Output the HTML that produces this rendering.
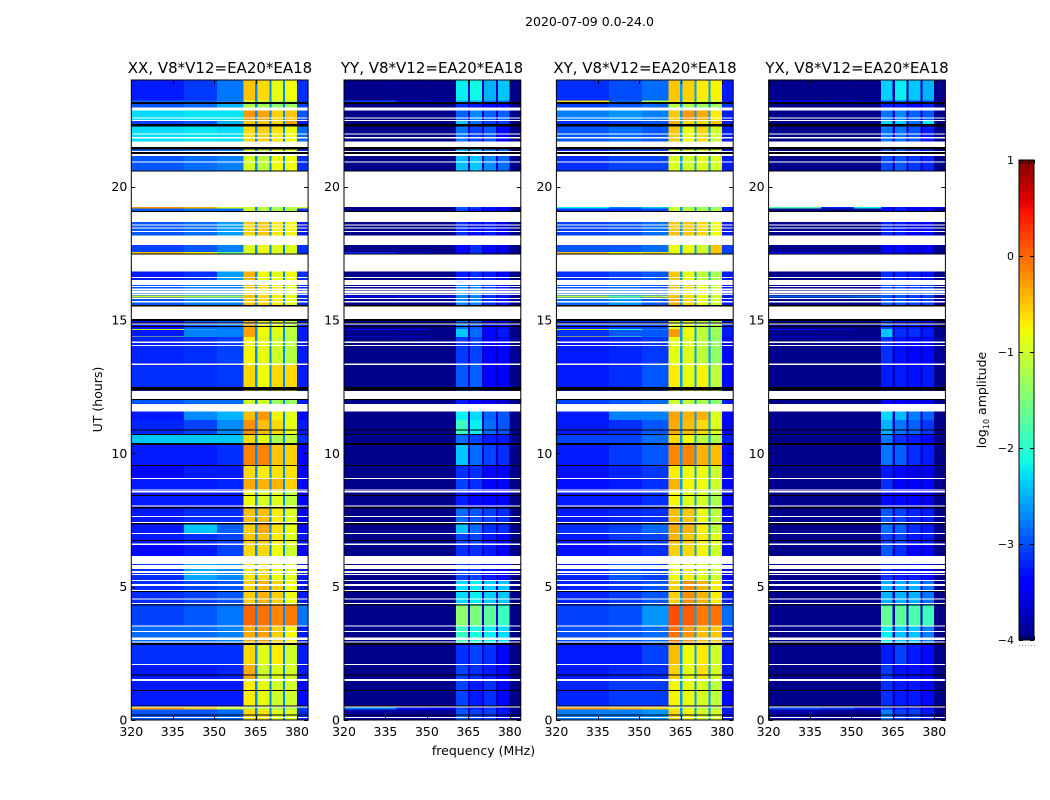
<!DOCTYPE html>
<html lang="en">
<head>
<meta charset="utf-8">
<title>2020-07-09 0.0-24.0</title>
<style>
html,body{margin:0;padding:0;background:#fff;}
#chart{display:block;}
text{font-family:"DejaVu Sans","Liberation Sans",sans-serif;fill:#000;}
</style>
</head>
<body>
<svg id="chart" xmlns="http://www.w3.org/2000/svg" width="1050" height="800" viewBox="0 0 1050 800">
  <rect x="0" y="0" width="1050" height="800" fill="#fff"/>
  <text x="589.5" y="26" font-size="12.5" text-anchor="middle">2020-07-09 0.0-24.0</text>
  <text x="220" y="73" font-size="15" text-anchor="middle">XX, V8*V12=EA20*EA18</text>
  <text x="432" y="73" font-size="15" text-anchor="middle">YY, V8*V12=EA20*EA18</text>
  <text x="645" y="73" font-size="15" text-anchor="middle">XY, V8*V12=EA20*EA18</text>
  <text x="857" y="73" font-size="15" text-anchor="middle">YX, V8*V12=EA20*EA18</text>
  <g id="panels"></g>
  <text x="0" y="0" font-size="12.5" text-anchor="middle" transform="translate(102,399.5) rotate(-90)">UT (hours)</text>
  <text x="483.5" y="755" font-size="12.5" text-anchor="middle">frequency (MHz)</text>
  <g id="colorbar"></g>
  <text x="0" y="0" font-size="12.5" text-anchor="middle" transform="translate(986,400) rotate(-90)">log<tspan font-size="8" dy="3">10</tspan><tspan dy="-3"> amplitude</tspan></text>
</svg>
<script>
// Time-block edges (UT hours, top to bottom); one row of levels per block.
const rowEdgesUT = [24,23.23,23.18,22.86,22.46,22.26,21.49,20.57,19.18,19.05,18.15,17.55,17.48,16.43,15.92,15.84,15.51,14.67,14.63,14.39,14.36,13.37,12.34,11.85,11.25,10.73,10.31,9.56,9.04,8.63,7.99,7.35,7.01,6.56,6.15,5.21,4.31,3.53,2.85,2.06,1.46,0.49,0.39,0];
// Frequency column edges (MHz): three background columns, four bands, one right edge.
const freqColumnsMHz = [[320,339],[339,351],[351,360.6],[360.6,364.8],[365.7,370],[370.7,375],[375.7,379.9],[379.9,384]];
// The narrow channels between bands.
const bandGapsMHz = [[364.8,365.7],[370,370.7],[375,375.7]];
const bandGapLevelXX = -2.7;
const bandGapLevelYY = -3.7;
const bandGapLevelXY = -2.6;
const bandGapLevelYX = -3.75;
// Flagged-out (white) UT ranges.
const flaggedUT = [[22.97,22.86],[22.59,22.55],[22.50,22.46],[21.99,21.96],[21.87,21.81],[21.69,21.48],[21.34,21.30],[21.23,21.15],[20.94,20.90],[20.57,19.24],[19.05,18.68],[18.59,18.55],[18.47,18.45],[18.34,18.30],[18.16,17.82],[17.46,16.81],[16.62,16.57],[16.50,16.31],[16.28,16.23],[16.19,16.13],[16.10,16.00],[15.98,15.93],[15.83,15.78],[15.71,15.66],[15.51,15.03],[14.89,14.84],[14.19,14.14],[14.07,14.04],[13.37,13.32],[12.34,12.03],[11.85,11.56],[9.08,9.04],[8.64,8.60],[8.58,8.54],[8.04,8.00],[7.65,7.62],[7.43,7.39],[7.01,6.99],[6.61,6.57],[6.15,5.85],[5.81,5.67],[5.58,5.52],[5.48,5.44],[5.25,5.21],[5.10,5.03],[4.88,4.84],[4.56,4.53],[4.39,4.35],[3.55,3.53],[3.34,3.30],[3.09,3.00],[2.94,2.90],[2.10,2.06],[1.54,1.46],[0.50,0.46],[0.11,0.08]];
// Scan boundaries drawn as black lines.
const scanBreaksUT = [[23.18,23.10],[22.35,22.26],[21.48,21.40],[21.30,21.23],[20.60,20.57],[19.08,19.05],[17.49,17.46],[15.56,15.51],[15.03,14.96],[14.91,14.89],[14.78,14.75],[12.48,12.35],[12.03,12.00],[10.90,10.88],[10.73,10.69],[10.38,10.31],[9.57,9.55],[8.44,8.40],[7.98,7.94],[7.38,7.34],[6.75,6.71],[4.84,4.82],[4.34,4.30],[2.89,2.82],[1.71,1.68],[1.13,1.09],[0.55,0.53],[0.21,0.18]];
// log10 amplitude per block: c1,c2,c3,band1,band2,band3,band4,right
const levelsXX = [
[-3.25,-3.1,-2.8,-.5,-.6,-.85,-.8,-3.15],[-2.85,-2.85,-2.75,-.9,-1,-1.1,-1.1,-3.15],[-2.95,-2.85,-2.5,-1.2,-1.25,-1.4,-1.3,-3.05],[-2.3,-2.25,-2.25,-.25,-.3,-.55,-.5,-2.95],
[-3.05,-2.95,-2.5,-.5,-.5,-.6,-.3,-3.25],[-2.3,-2.25,-2.3,-.6,-.55,-.65,-.8,-2.85],[-2.95,-2.85,-2.75,-.95,-1.1,-.8,-.8,-3.15],[-.2,-.4,-1,-1,-1.1,-1.2,-1.2,-1],
[-2.95,-2.85,-2.85,-1,-1.1,-1.2,-1.2,-3.15],[-2.95,-2.85,-2.6,-.55,-.5,-.7,-.75,-3.25],[-3.05,-2.95,-2.75,-.9,-.8,-.9,-.9,-3.15],[-.5,-.7,-1.6,-.9,-.8,-.9,-.9,-3.15],
[-3.25,-3.15,-2.6,-.4,-.8,-.85,-.8,-3.15],[-2.95,-2.75,-2.75,-.5,-.6,-.7,-.85,-3.15],[-1,-1.1,-1.2,-.5,-.6,-.7,-.85,-3.15],[-2.95,-2.75,-2.75,-.5,-.6,-.7,-.85,-3.15],
[-3.25,-2.95,-2.85,-.35,-.75,-.85,-1.1,-3.25],[-1,-2.5,-2.75,-.3,-.75,-.85,-1.1,-3.25],[-3.25,-2.75,-2.75,-.3,-.8,-.9,-1.1,-3.25],[-1.1,-2.6,-2.85,-.4,-.8,-.95,-1.1,-3.25],
[-3.2,-3.15,-3.05,-.75,-.85,-1,-1.15,-3.25],[-3.15,-3.15,-3.1,-.6,-.8,-.6,-.6,-3.25],[-2.95,-2.85,-2.85,-1,-1,-1.3,-1.3,-3.25],[-3.25,-2.7,-2.5,-.45,-.25,-.75,-.85,-3.35],
[-3.2,-3.05,-2.7,-.2,-.45,-.6,-.85,-3.25],[-2.4,-2.4,-2.4,-.6,-.85,-1.2,-1.1,-3.15],[-3.25,-3.25,-3.15,-.15,-.15,-.5,-.55,-3.45],[-3.35,-3.25,-3.25,-.6,-.7,-.65,-.65,-3.45],
[-3.25,-3.25,-3.2,-.35,-.4,-.4,-.55,-3.35],[-3.25,-3.25,-3.25,-.8,-.95,-.9,-1.1,-3.45],[-3.25,-3.15,-3.15,-.45,-.45,-.7,-.9,-3.45],[-3.25,-2.4,-2.9,-.55,-.35,-.65,-.85,-3.35],
[-3.25,-3.15,-3.05,-.5,-.5,-.7,-.9,-3.25],[-3.35,-3.25,-3.05,-.6,-.6,-.8,-1,-3.35],[-3.15,-2.55,-2.7,-.65,-.6,-.8,-.9,-3.25],[-3.15,-3.05,-2.95,-.55,-.4,-.55,-.8,-3.25],
[-3.05,-2.95,-2.8,0,-.05,-.15,-.1,-2.8],[-2.85,-2.85,-2.75,-.35,-.3,-.55,-.75,-3.25],[-3.15,-3.15,-3.15,-.6,-.9,-.7,-1,-3.25],[-3.25,-3.25,-3.2,-.35,-1,-.9,-.95,-3.25],
[-3.25,-3.25,-3.25,-.7,-.85,-1,-1,-3.35],[-.3,-.5,-1,-1.1,-1,-1.2,-1.2,-3],[-2.95,-2.95,-2.85,-.6,-.65,-.9,-.9,-3.15]];
const levelsYY = [
[-3.95,-3.95,-3.95,-2.2,-2.15,-2.5,-2.4,-3.95],[-3,-3.6,-3.7,-2.5,-2.5,-2.8,-2.8,-3.95],[-3.95,-3.95,-3.95,-3.15,-3.25,-3.35,-3.35,-3.95],[-3.95,-3.95,-3.95,-2.9,-2.7,-2.9,-2.9,-3.95],
[-3.95,-3.95,-3.95,-2.4,-2.8,-3.05,-3.05,-3.95],[-3.95,-3.95,-3.95,-2.8,-3.05,-2.95,-3.35,-3.95],[-3.95,-3.95,-3.95,-2.45,-2.4,-2.7,-2.85,-3.95],[-3.95,-3.95,-3.95,-2.9,-3.05,-3.25,-3.45,-3.95],
[-3.95,-3.95,-3.95,-3.05,-3.25,-3.35,-3.55,-3.95],[-3.95,-3.95,-3.95,-3.15,-3.3,-3.25,-3.55,-3.95],[-3.95,-3.95,-3.95,-3.35,-3.15,-3.35,-3.55,-3.95],[-3.2,-3.6,-3.8,-3.35,-3.15,-3.35,-3.55,-3.95],
[-3.95,-3.95,-3.95,-3.25,-3.15,-3.25,-3.45,-3.95],[-3.95,-3.95,-3.95,-2.7,-2.7,-3.05,-3.25,-3.95],[-3.5,-3.3,-3.3,-2.7,-2.7,-3.15,-3.25,-3.95],[-3.95,-3.95,-3.95,-2.7,-2.7,-3.15,-3.25,-3.95],
[-3.95,-3.95,-3.95,-2.85,-2.95,-3.35,-3.35,-3.95],[-3.4,-3.5,-3.95,-2.4,-2.85,-3.35,-3.25,-3.95],[-3.95,-3.95,-3.95,-2.4,-2.85,-3.35,-3.25,-3.95],[-3.3,-3.4,-3.95,-2.4,-2.85,-3.35,-3.25,-3.95],
[-3.95,-3.95,-3.95,-3.1,-3.05,-3.4,-3.35,-3.9],[-3.95,-3.95,-3.95,-2.95,-2.9,-3.45,-3.45,-3.95],[-3.95,-3.95,-3.95,-3.25,-3.35,-3.55,-3.65,-3.95],[-3.95,-3.95,-3.95,-2.2,-2.3,-2.9,-2.95,-3.95],
[-3.95,-3.95,-3.95,-1.9,-2.2,-2.85,-2.95,-3.95],[-3.95,-3.95,-3.95,-2.85,-3.05,-3.25,-3.25,-3.95],[-3.95,-3.95,-3.95,-2.4,-2.85,-3.05,-3.15,-3.95],[-3.95,-3.95,-3.95,-3.15,-3.15,-3.35,-3.45,-3.95],
[-3.95,-3.95,-3.95,-3.05,-3.15,-3.45,-3.35,-3.95],[-3.95,-3.95,-3.95,-3.25,-3.35,-3.45,-3.45,-3.95],[-3.95,-3.95,-3.95,-2.85,-2.95,-3.05,-3.15,-3.95],[-3.95,-3.95,-3.95,-2.4,-2.85,-3.15,-3.15,-3.95],
[-3.95,-3.95,-3.95,-3.05,-3.05,-3.25,-3.35,-3.95],[-3.95,-3.95,-3.95,-3.15,-3.15,-3.25,-3.45,-3.95],[-3.95,-3.95,-3.95,-3.05,-3.05,-3.25,-3.35,-3.95],[-3.95,-3.95,-3.95,-2.3,-2.2,-2.35,-2.4,-3.95],
[-3.95,-3.95,-3.95,-1.4,-1.5,-1.7,-1.9,-3.95],[-3.95,-3.95,-3.95,-1.9,-2.1,-2.2,-2.3,-3.95],[-3.95,-3.95,-3.95,-3.15,-3.05,-3.15,-3.35,-3.95],[-3.95,-3.95,-3.95,-3.05,-3.15,-3.25,-3.45,-3.95],
[-3.95,-3.95,-3.95,-3.05,-3.25,-3.15,-3.35,-3.95],[-2.8,-3.3,-3.5,-3.05,-3.25,-3.15,-3.35,-3.95],[-3.85,-3.9,-3.9,-2.95,-3.05,-3.05,-3.25,-3.9]];
const levelsXY = [
[-3.15,-3,-2.85,-.5,-.55,-.7,-.75,-3.25],[-.6,-2.85,-1.2,-.6,-.7,-1,-1,-3.25],[-3.05,-2.95,-2.85,-1.1,-1.2,-1.3,-1.3,-3.15],[-2.75,-2.65,-2.75,-.5,-.25,-.35,-.7,-3.25],
[-3.15,-3.05,-2.95,-.4,-.6,-.6,-.5,-3.25],[-2.95,-2.85,-2.95,-.5,-.8,-.6,-1,-3.25],[-3.15,-3.05,-3.05,-.9,-1,-.9,-.95,-3.25],[-2.2,-2.75,-2.4,-1,-1.2,-1.3,-1.3,-3.25],
[-3.15,-3.15,-3.05,-1,-1.1,-1.2,-1.2,-3.25],[-3.05,-3,-2.85,-.5,-.5,-.6,-.8,-3.25],[-2.95,-2.95,-2.85,-.8,-.85,-1,-.5,-3.05],[-.5,-.8,-.6,-.8,-.85,-1,-.5,-3.05],
[-3.15,-3.05,-2.95,-.5,-.85,-1.1,-1.2,-3.25],[-2.95,-2.85,-2.95,-.45,-.6,-.8,-1,-3.25],[-1.1,-1.6,-1.1,-.5,-.6,-.8,-1,-3.25],[-2.85,-2.65,-2.95,-.35,-.6,-.8,-1,-3.25],
[-3.15,-3.05,-3.05,-.85,-.9,-1.1,-1.2,-3.25],[-1,-2,-2.75,-.3,-.8,-1.1,-1.3,-3.25],[-3.15,-2.95,-2.95,-.25,-.8,-1.1,-1.3,-3.25],[-.8,-1.6,-2.75,-.3,-.8,-1.1,-1.3,-3.25],
[-3.25,-3.2,-3.1,-.85,-.9,-1.1,-1.35,-3.35],[-3.25,-3.15,-2.95,-.7,-.85,-.75,-1.1,-3.35],[-3.05,-2.95,-2.85,-1,-1.1,-1.2,-1.4,-3.25],[-3.25,-2.75,-2.75,-.3,-.4,-.4,-.9,-3.35],
[-3.25,-3.15,-2.95,-.35,-.45,-.6,-.9,-3.35],[-3.05,-3.05,-2.85,-.6,-.8,-1.1,-1.2,-3.25],[-3.25,-3.1,-2.95,-.15,-.15,-.4,-.45,-3.35],[-3.3,-3.2,-3.1,-.7,-.8,-.8,-1,-3.35],
[-3.3,-3.25,-3.15,-.4,-.75,-.8,-1,-3.35],[-3.25,-3.25,-3.15,-.75,-.9,-.95,-1.2,-3.35],[-3.25,-3.2,-3.15,-.45,-.5,-.8,-1.1,-3.35],[-3.15,-3.05,-2.85,-.35,-.4,-.7,-1.05,-3.25],
[-3.25,-3.1,-3.05,-.4,-.5,-.7,-.85,-3.25],[-3.3,-3.25,-3.15,-.55,-.6,-.75,-1,-3.35],[-3.2,-2.95,-3.05,-.8,-.7,-.9,-1,-3.35],[-3.2,-3.1,-2.95,-.55,-.2,-.4,-.7,-3.25],
[-3.05,-3,-2.65,.15,.05,-.1,-.05,-2.85],[-3,-2.95,-2.85,-.05,-.25,-.45,-.5,-3.15],[-3.25,-3.25,-3.05,-.45,-.8,-.7,-1,-3.25],[-3.25,-3.2,-3.15,-.55,-.85,-.65,-.95,-3.25],
[-3.2,-3.1,-3.1,-.75,-.85,-.95,-1.1,-3.35],[-.2,-.4,-.5,-.9,-1,-1.1,-1.2,-3.25],[-2.75,-2.75,-2.65,-.6,-.75,-.95,-.95,-3.25]];
const levelsYX = [
[-3.95,-3.95,-3.95,-2.35,-2.2,-2.4,-2.5,-3.95],[-3.4,-3.6,-3.7,-3.05,-2.95,-3.05,-3.05,-3.95],[-3.95,-3.95,-3.95,-3.25,-3.25,-3.35,-3.25,-3.95],[-3.95,-3.95,-3.95,-2.8,-2.7,-2.9,-2.95,-3.95],
[-3.95,-3.95,-3.95,-2.3,-2.35,-2.8,-2.2,-3.95],[-3.95,-3.95,-3.95,-2.8,-2.8,-2.95,-3.25,-3.95],[-3.95,-3.95,-3.95,-3,-2.95,-3.1,-3.2,-3.95],[-1.8,-3.2,-2.2,-3.25,-3.25,-3.45,-3.45,-3.5],
[-3.95,-3.95,-3.95,-3.35,-3.25,-3.55,-3.55,-3.95],[-3.95,-3.95,-3.95,-3.2,-3.25,-3.35,-3.4,-3.95],[-3.95,-3.95,-3.95,-3.45,-3.35,-3.55,-3.55,-3.95],[-3.4,-3.5,-3.6,-3.45,-3.35,-3.55,-3.55,-3.95],
[-3.95,-3.95,-3.95,-3.15,-3.2,-3.25,-3.3,-3.95],[-3.95,-3.95,-3.95,-2.95,-2.95,-3.05,-3.05,-3.95],[-2.9,-2.9,-2.8,-2.95,-2.95,-3.05,-3.05,-3.95],[-3.95,-3.95,-3.95,-2.95,-2.95,-3.05,-3.05,-3.95],
[-3.95,-3.95,-3.95,-3.05,-3.25,-3.25,-3.35,-3.95],[-3.4,-3.6,-3.95,-2.4,-3.15,-3.15,-3.25,-3.95],[-3.95,-3.95,-3.95,-2.4,-3.15,-3.15,-3.25,-3.95],[-3.4,-3.6,-3.7,-2.4,-3.15,-3.15,-3.25,-3.95],
[-3.95,-3.95,-3.95,-3.15,-3.3,-3.35,-3.35,-3.9],[-3.95,-3.95,-3.95,-3.25,-3.25,-3.3,-3.25,-3.95],[-3.95,-3.95,-3.95,-3.35,-3.45,-3.55,-3.55,-3.95],[-3.95,-3.95,-3.95,-2.3,-2.45,-2.75,-2.9,-3.95],
[-3.95,-3.95,-3.95,-2.5,-2.8,-2.9,-3.1,-3.95],[-3.95,-3.95,-3.95,-2.8,-3.15,-3.25,-3.35,-3.95],[-3.95,-3.95,-3.95,-2.8,-2.9,-3.15,-3.25,-3.95],[-3.95,-3.95,-3.95,-3.25,-3.35,-3.55,-3.55,-3.95],
[-3.95,-3.95,-3.95,-3.15,-3.4,-3.45,-3.45,-3.95],[-3.95,-3.95,-3.95,-3.35,-3.35,-3.45,-3.55,-3.95],[-3.95,-3.95,-3.95,-2.95,-3.05,-3.2,-3.25,-3.95],[-3.95,-3.95,-3.95,-2.8,-2.9,-3.15,-3.25,-3.95],
[-3.95,-3.95,-3.95,-3.05,-3.05,-3.25,-3.25,-3.95],[-3.95,-3.95,-3.95,-2.95,-3.15,-3.35,-3.45,-3.95],[-3.95,-3.95,-3.95,-3.15,-3.25,-3.25,-3.35,-3.95],[-3.95,-3.95,-3.95,-2.5,-2.5,-2.5,-2.8,-3.95],
[-3.95,-3.95,-3.95,-1.65,-1.7,-1.8,-1.9,-3.95],[-3.95,-3.95,-3.95,-2.2,-2.4,-2.4,-2.75,-3.95],[-3.95,-3.95,-3.95,-3.25,-3.05,-3.25,-3.35,-3.95],[-3.95,-3.95,-3.95,-3.1,-3.3,-3.3,-3.45,-3.95],
[-3.95,-3.95,-3.95,-3.15,-3.25,-3.25,-3.35,-3.95],[-3,-3.1,-3.3,-3.15,-3.25,-3.25,-3.35,-3.95],[-3.8,-3.9,-3.9,-2.75,-3.05,-3.05,-3.25,-3.9]];
const xTickLabels = [320,335,350,365,380];
const yTickLabels = [0,5,10,15,20];
const colorbarTickLabels = [1,0,-1,-2,-3,-4];

const SVGNS = 'http://www.w3.org/2000/svg';
const panelLefts = [131.3,344,556.4,768.6];
const panelWidth = 176.8;
const plotTop = 80;
const plotBottom = 720;
const freqMin = 320;
const freqMax = 384;
const utMax = 24;

function xScale(panelIndex, mhz){
  return panelLefts[panelIndex] + (mhz - freqMin) / (freqMax - freqMin) * panelWidth;
}
function yScale(ut){
  return plotBottom - ut / utMax * (plotBottom - plotTop);
}
function jetChannel(t, points){
  for(let i = 1; i < points.length; i++){
    if(t <= points[i][0]){
      const a = points[i-1], b = points[i];
      return a[1] + (b[1]-a[1]) * (t-a[0]) / (b[0]-a[0]);
    }
  }
  return points[points.length-1][1];
}
function jetColor(level){
  const t = Math.max(0, Math.min(1, (level + 4) / 5));
  const r = jetChannel(t, [[0,0],[0.35,0],[0.66,1],[0.89,1],[1,0.5]]);
  const g = jetChannel(t, [[0,0],[0.125,0],[0.375,1],[0.64,1],[0.91,0],[1,0]]);
  const b = jetChannel(t, [[0,0.5],[0.11,1],[0.34,1],[0.65,0],[1,0]]);
  return 'rgb(' + Math.round(r*255) + ',' + Math.round(g*255) + ',' + Math.round(b*255) + ')';
}
function makeSvg(tag, parent, attrs){
  const el = document.createElementNS(SVGNS, tag);
  for(const k in attrs){ el.setAttribute(k, attrs[k]); }
  parent.appendChild(el);
  return el;
}

const panelsRoot = document.getElementById('panels');
const panelKeys = ['xx','yy','xy','yx'];
const panelLevels = [levelsXX, levelsYY, levelsXY, levelsYX];
const panelGapLevels = [bandGapLevelXX, bandGapLevelYY, bandGapLevelXY, bandGapLevelYX];

panelKeys.forEach(function(key, p){
  const group = makeSvg('g', panelsRoot, {});
  
  
  const levels = panelLevels[p];

  levels.forEach(function(row, r){
    const y0 = yScale(rowEdgesUT[r]);
    const y1 = yScale(rowEdgesUT[r+1]);
    row.forEach(function(level, c){
      const x0 = xScale(p, freqColumnsMHz[c][0]);
      const x1 = xScale(p, freqColumnsMHz[c][1]);
      const cell = makeSvg('rect', group, {x:x0, y:y0, width:x1-x0, height:y1-y0, fill:jetColor(level), 'shape-rendering':'crispEdges'});
      
      
    });
    bandGapsMHz.forEach(function(gap){
      const x0 = xScale(p, gap[0]);
      const x1 = xScale(p, gap[1]);
      const gapCell = makeSvg('rect', group, {x:x0, y:y0, width:x1-x0, height:y1-y0, fill:jetColor(panelGapLevels[p]), 'shape-rendering':'crispEdges'});
      
      
    });
  });

  flaggedUT.forEach(function(range){
    const y0 = yScale(range[0]);
    const y1 = yScale(range[1]);
    const flag = makeSvg('rect', group, {x:xScale(p,freqMin), y:y0, width:panelWidth, height:Math.max(1,y1-y0), fill:'#fff', 'shape-rendering':'crispEdges'});
    
    
  });

  scanBreaksUT.forEach(function(range){
    const y0 = yScale(range[0]);
    const y1 = yScale(range[1]);
    const brk = makeSvg('rect', group, {x:xScale(p,freqMin), y:y0, width:panelWidth, height:Math.max(1,y1-y0), fill:'#000', 'shape-rendering':'crispEdges'});
    
    
  });

  const frame = makeSvg('rect', group, {x:xScale(p,freqMin), y:plotTop, width:panelWidth, height:plotBottom-plotTop, fill:'none', stroke:'#000', 'stroke-width':1});
  
  

  xTickLabels.forEach(function(mhz){
    const x = Math.round(xScale(p, mhz)) + 0.5;
    const tickB = makeSvg('line', group, {x1:x, x2:x, y1:plotBottom, y2:plotBottom-4, stroke:'#000', 'stroke-width':1});
    
    
    const tickT = makeSvg('line', group, {x1:x, x2:x, y1:plotTop, y2:plotTop+4, stroke:'#000', 'stroke-width':1});
    
    
    const label = makeSvg('text', group, {x:xScale(p,mhz), y:736, 'font-size':12.5, 'text-anchor':'middle'});
    label.textContent = String(mhz);
    
    
  });

  yTickLabels.forEach(function(ut){
    const y = Math.round(yScale(ut)) + 0.5;
    const left = xScale(p, freqMin);
    const right = xScale(p, freqMax);
    const tickL = makeSvg('line', group, {x1:left, x2:left+4, y1:y, y2:y, stroke:'#000', 'stroke-width':1});
    
    
    const tickR = makeSvg('line', group, {x1:right, x2:right-4, y1:y, y2:y, stroke:'#000', 'stroke-width':1});
    
    
    const label = makeSvg('text', group, {x:left-4, y:yScale(ut)+4.5, 'font-size':12.5, 'text-anchor':'end'});
    label.textContent = String(ut);
    
    
  });
});

// Colorbar
const cbRoot = document.getElementById('colorbar');
const cbLeft = 1019, cbRight = 1034, cbTop = 160, cbBottom = 640;
const cbMin = -4, cbMax = 1;
function cbScale(level){
  return cbBottom - (level - cbMin) / (cbMax - cbMin) * (cbBottom - cbTop);
}
for(let py = cbTop; py < cbBottom; py += 4){
  const level = cbMax - (py + 2 - cbTop) / (cbBottom - cbTop) * (cbMax - cbMin);
  const strip = makeSvg('rect', cbRoot, {x:cbLeft, y:py, width:cbRight-cbLeft, height:4, fill:jetColor(level), 'shape-rendering':'crispEdges'});
  
  
}
const cbFrame = makeSvg('rect', cbRoot, {x:cbLeft, y:cbTop, width:cbRight-cbLeft, height:cbBottom-cbTop, fill:'none', stroke:'#000', 'stroke-width':1});


colorbarTickLabels.forEach(function(level){
  const y = cbScale(level);
  const label = makeSvg('text', cbRoot, {x:1014, y:y+4, 'font-size':11, 'text-anchor':'end'});
  label.textContent = level < 0 ? '\u2212' + Math.abs(level) : String(level);
  
  
  const tickL = makeSvg('line', cbRoot, {x1:cbLeft, x2:cbLeft+4, y1:y+0.5, y2:y+0.5, stroke:'#000', 'stroke-width':1});
  
  
  const tickR = makeSvg('line', cbRoot, {x1:cbRight, x2:cbRight-4, y1:y+0.5, y2:y+0.5, stroke:'#000', 'stroke-width':1});
  
  
});
for(let i = 0; i < 6; i++){
  const x = cbLeft + i * (cbRight - cbLeft) / 5 + 0.5;
  const capTop = makeSvg('line', cbRoot, {x1:x, x2:x, y1:cbTop, y2:cbTop+4, stroke:'#000', 'stroke-width':0.8});
  
  
  const capBottom = makeSvg('line', cbRoot, {x1:x, x2:x, y1:cbBottom, y2:cbBottom-4, stroke:'#000', 'stroke-width':0.8});
  
  
  const dot = makeSvg('rect', cbRoot, {x:x-0.5, y:645, width:1, height:1, fill:'#999'});
  
  
}
</script>
</body>
</html>
